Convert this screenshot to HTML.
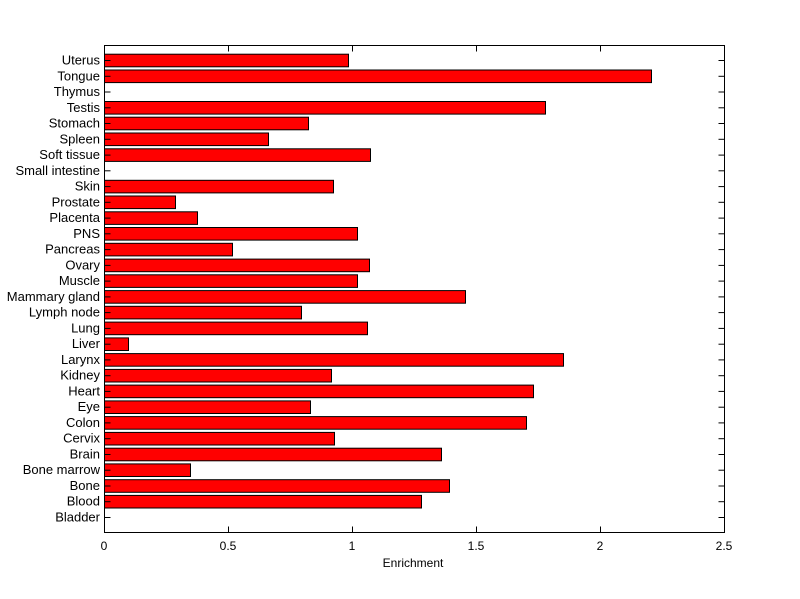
<!DOCTYPE html>
<html><head><style>body{margin:0;background:#fff}svg{display:block}text{font-family:"Liberation Sans",sans-serif;font-size:12px;fill:#000}#labels text{font-size:13px}</style></head>
<body>
<svg width="800" height="599" viewBox="0 0 800 599" xmlns="http://www.w3.org/2000/svg">
<rect width="800" height="599" fill="#fff"/>
<g id="bars" fill="#ff0000" stroke="#000" stroke-width="1"></g>
<rect x="104.5" y="45.5" width="620" height="487" fill="none" stroke="#000"/>
<g id="ticks" stroke="#000"></g>
<g id="labels"></g>
<g text-anchor="middle">
<text x="104" y="550">0</text><text x="228" y="550">0.5</text><text x="352" y="550">1</text><text x="476" y="550">1.5</text><text x="600" y="550">2</text><text x="724" y="550">2.5</text>
<text x="413" y="567">Enrichment</text>
</g>
<script>
var names=["Uterus","Tongue","Thymus","Testis","Stomach","Spleen","Soft tissue","Small intestine","Skin","Prostate","Placenta","PNS","Pancreas","Ovary","Muscle","Mammary gland","Lymph node","Lung","Liver","Larynx","Kidney","Heart","Eye","Colon","Cervix","Brain","Bone marrow","Bone","Blood","Bladder"];
var ends=[348,651,104,545,308,268,370,104,333,175,197,357,232,369,357,465,301,367,128,563,331,533,310,526,334,441,190,449,421,104];
var ns="http://www.w3.org/2000/svg";
var b=document.getElementById("bars"),t=document.getElementById("ticks"),l=document.getElementById("labels");
function el(p,n,a,txt){var e=document.createElementNS(ns,n);for(var k in a)e.setAttribute(k,a[k]);if(txt)e.textContent=txt;p.appendChild(e);}
for(var i=0;i<30;i++){var y=60.5+i*(457/29);
 if(ends[i]>104)el(b,"rect",{x:104.5,y:(y-6.3).toFixed(1),width:ends[i]-104,height:12.6});
 el(t,"line",{x1:104.5,x2:110.5,y1:y.toFixed(1),y2:y.toFixed(1)});
 el(t,"line",{x1:718.5,x2:724.5,y1:y.toFixed(1),y2:y.toFixed(1)});
 el(l,"text",{x:100,y:(y+4).toFixed(1),"text-anchor":"end"},names[i]);}
for(var j=0;j<=5;j++){var x=104.5+j*124;
 el(t,"line",{x1:x,x2:x,y1:45.5,y2:51.5});el(t,"line",{x1:x,x2:x,y1:526.5,y2:532.5});}
</script>
</svg>
</body></html>
